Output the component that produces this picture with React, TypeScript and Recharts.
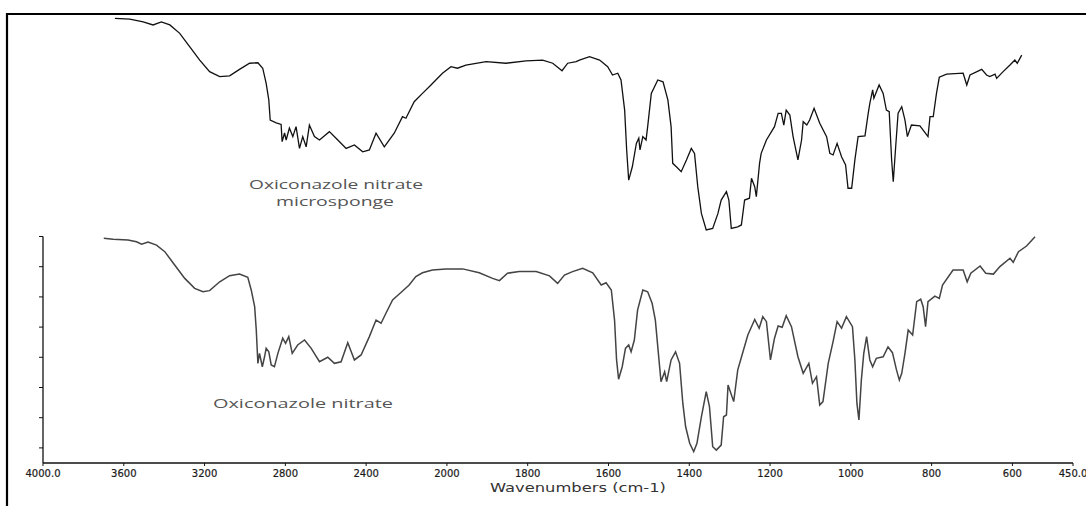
import { LineChart, Line, XAxis, YAxis, ReferenceLine } from 'recharts';

// FTIR spectra, wavenumbers in cm-1, transmittance in arbitrary % of panel height
const topWavenumbers = [
  3644, 3570, 3504, 3455, 3414, 3372, 3323, 3274, 3224, 3175,
  3125, 3076, 3027, 2977, 2936, 2912, 2895, 2882, 2875, 2845,
  2821, 2816, 2804, 2796, 2780, 2763, 2747, 2730, 2714, 2697,
  2681, 2656, 2631, 2582, 2549, 2499, 2458, 2417, 2384, 2351,
  2310, 2261, 2220, 2203, 2162, 2121, 2079, 2022, 1990, 1974,
  1953, 1903, 1854, 1804, 1763, 1738, 1715, 1701, 1680, 1672,
  1647, 1622, 1602, 1590, 1577, 1569, 1560, 1555, 1550, 1541,
  1531, 1525, 1522, 1515, 1507, 1503, 1494, 1478, 1465, 1453,
  1445, 1441, 1432, 1420, 1407, 1395, 1387, 1379, 1370, 1358,
  1342, 1329, 1321, 1308, 1302, 1296, 1280, 1271, 1263, 1251,
  1246, 1238, 1234, 1226, 1222, 1209, 1189, 1180, 1172, 1166,
  1160, 1151, 1143, 1131, 1122, 1118, 1109, 1102, 1091, 1077,
  1060, 1052, 1044, 1034, 1023, 1013, 1007, 998, 990, 982,
  965, 957, 953, 946, 943, 930, 920, 912, 905, 899,
  895, 889, 883, 874, 866, 860, 850, 829, 809, 804,
  796, 788, 781, 763, 722, 713, 705, 676, 664, 656,
  643, 639, 623, 606, 594, 588, 577,
];
const topValues = [
  96.3, 96.0, 94.8, 93.4, 94.7, 93.4, 89.7, 83.8, 77.9, 72.8,
  70.6, 70.9, 73.8, 76.5, 76.7, 74.3, 67.6, 60.3, 51.4, 50.2,
  49.5, 41.9, 45.7, 42.6, 47.9, 44.1, 48.5, 38.9, 44.1, 39.6,
  49.2, 44.1, 42.6, 46.3, 43.4, 38.9, 40.4, 37.4, 38.2, 45.6,
  39.6, 45.6, 52.9, 52.2, 59.5, 63.2, 66.9, 72.1, 75.0, 74.3,
  75.7, 77.2, 76.5, 77.5, 77.9, 76.5, 73.2, 76.5, 77.2, 77.9,
  79.4, 77.9, 75.0, 71.3, 72.1, 69.1, 55.8, 38.2, 24.9, 30.8,
  41.1, 43.4, 38.2, 44.1, 42.6, 48.5, 63.2, 69.1, 68.3, 60.3,
  48.5, 32.3, 30.8, 28.6, 33.8, 38.9, 36.7, 22.0, 10.2, 2.9,
  3.6, 10.2, 16.1, 19.8, 16.1, 3.6, 4.3, 5.1, 16.1, 16.9,
  25.7, 22.0, 17.6, 32.3, 36.7, 42.6, 48.5, 54.4, 54.4, 49.2,
  55.8, 53.6, 44.1, 33.8, 42.6, 50.7, 49.2, 51.4, 56.6, 50.0,
  44.1, 36.7, 36.0, 41.1, 35.2, 31.6, 21.3, 21.3, 33.8, 44.1,
  44.4, 54.4, 58.8, 64.7, 61.0, 66.9, 63.2, 55.8, 55.1, 33.8,
  24.2, 39.6, 54.4, 57.3, 51.4, 44.1, 49.2, 48.8, 44.1, 52.9,
  52.9, 63.2, 70.3, 71.7, 72.1, 66.9, 71.3, 73.8, 71.3, 70.6,
  71.7, 69.8, 72.8, 75.7, 77.9, 76.5, 80.1,
];

const bottomWavenumbers = [
  3699, 3653, 3579, 3537, 3512, 3480, 3438, 3397, 3348, 3298,
  3249, 3208, 3175, 3125, 3076, 3027, 2986, 2969, 2952, 2944,
  2936, 2928, 2914, 2903, 2895, 2882, 2870, 2854, 2837, 2813,
  2799, 2783, 2766, 2739, 2705, 2672, 2631, 2590, 2557, 2524,
  2491, 2458, 2425, 2384, 2351, 2326, 2302, 2269, 2236, 2187,
  2154, 2121, 2072, 2005, 1961, 1920, 1887, 1870, 1850, 1821,
  1779, 1746, 1726, 1709, 1689, 1664, 1639, 1618, 1606, 1593,
  1585, 1580, 1575, 1566, 1558, 1550, 1544, 1536, 1528, 1515,
  1503, 1492, 1484, 1475, 1470, 1461, 1456, 1445, 1434, 1424,
  1416, 1409, 1399, 1389, 1381, 1370, 1358, 1350, 1342, 1333,
  1321, 1315, 1308, 1304, 1290, 1280, 1267, 1255, 1238, 1227,
  1218, 1209, 1199, 1189, 1180, 1170, 1160, 1147, 1131, 1118,
  1104, 1095, 1085, 1077, 1069, 1056, 1044, 1034, 1023, 1011,
  996, 990, 985, 980, 974, 968, 961, 953, 946, 937,
  920, 908, 897, 887, 880, 874, 866, 858, 847, 837,
  827, 821, 815, 809, 792, 781, 773, 747, 722, 712,
  703, 680, 666, 647, 631, 606, 598, 585, 565, 544,
];
const bottomValues = [
  99.2, 98.8, 98.5, 97.7, 96.6, 97.6, 96.2, 93.3, 87.4, 81.5,
  77.1, 75.6, 76.1, 80.0, 82.7, 83.4, 82.0, 76.4, 69.0, 58.7,
  44.0, 48.4, 42.5, 46.9, 50.6, 49.1, 43.3, 42.5, 48.4, 55.1,
  52.8, 55.8, 48.4, 52.1, 54.3, 50.6, 44.7, 46.7, 44.0, 44.7,
  53.1, 45.5, 47.7, 55.8, 63.1, 61.7, 66.1, 72.0, 74.6, 78.6,
  82.3, 84.0, 85.2, 85.7, 85.7, 84.0, 81.5, 80.5, 83.8, 84.5,
  84.5, 82.6, 79.3, 83.0, 84.5, 86.0, 84.0, 78.6, 79.6, 76.4,
  63.1, 45.5, 37.0, 42.5, 50.6, 52.1, 49.1, 54.3, 67.5, 76.4,
  75.6, 70.5, 63.1, 45.5, 35.9, 40.3, 35.9, 45.5, 49.1, 44.0,
  26.4, 16.0, 8.7, 5.0, 8.7, 20.4, 31.5, 24.9, 7.2, 5.7,
  7.9, 20.4, 21.2, 34.4, 27.1, 41.1, 49.1, 56.5, 63.4, 59.5,
  64.6, 62.4, 45.5, 55.1, 60.5, 59.9, 65.0, 60.2, 46.9, 39.6,
  44.0, 35.2, 38.1, 25.6, 27.1, 44.0, 53.6, 62.4, 59.5, 64.6,
  60.2, 45.5, 26.4, 19.0, 36.6, 48.4, 55.8, 45.5, 42.5, 46.2,
  46.9, 51.3, 48.7, 41.1, 36.6, 39.6, 48.4, 58.7, 56.5, 71.2,
  72.3, 69.0, 60.2, 71.2, 73.7, 72.7, 78.6, 85.2, 85.2, 80.0,
  83.8, 87.0, 83.8, 83.4, 86.7, 90.4, 88.6, 93.3, 95.8, 99.9,
];

const xTickWavenumbers = [4000, 3600, 3200, 2800, 2400, 2000, 1800, 1600, 1400, 1200, 1000, 800, 600, 450];
const yTicks = [6.67, 20, 33.33, 46.67, 60, 73.33, 86.67, 100];

// the instrument halves the scale above 2000 cm-1
const toPos = (w: number) => (w >= 2000 ? (4000 - w) / 2 : 1000 + (2000 - w));
const fromPos = (p: number) => (p <= 1000 ? 4000 - p * 2 : 2000 - (p - 1000));

const topData = topWavenumbers.map((w, i) => ({ pos: toPos(w), t: topValues[i] }));
const bottomData = bottomWavenumbers.map((w, i) => ({ pos: toPos(w), b: bottomValues[i] }));

const formatTick = (p: number) => {
  const w = Math.round(fromPos(p));
  return w === 4000 || w === 450 ? `${w}.0` : `${w}`;
};

export default function App() {
  return (
    <div style={{ position: 'absolute', left: 0, top: 0, width: 1086, height: 506, background: '#fff' }}>
      <LineChart
        width={1086}
        height={506}
        margin={{ top: 10, right: 13, bottom: 13, left: 33 }}
      >
        <XAxis
          dataKey="pos"
          type="number"
          domain={[0, 2550]}
          ticks={xTickWavenumbers.map(toPos)}
          tickFormatter={formatTick}
          interval={0}
          height={30}
          tickSize={3}
          axisLine={{ stroke: '#111', strokeWidth: 1.3 }}
          tickLine={{ stroke: '#111' }}
          tick={{ fontSize: 10, fill: '#1a1a1a', fontFamily: 'DejaVu Sans', dy: 2, stroke: '#1a1a1a', strokeWidth: 0.2 }}
        />
        <YAxis yAxisId="top" domain={[-100, 100]} hide />
        <YAxis
          yAxisId="bottom"
          domain={[0, 200]}
          ticks={yTicks}
          width={10}
          axisLine={false}
          tickSize={4}
          tickLine={{ stroke: '#111' }}
          tickFormatter={() => ''}
        />
        <ReferenceLine
          yAxisId="bottom"
          segment={[{ x: 0, y: 0 }, { x: 0, y: 100 }]}
          stroke="#111"
          strokeWidth={1.3}
        />
        <Line
          yAxisId="top"
          data={topData}
          dataKey="t"
          type="linear"
          stroke="#111"
          strokeWidth={1.3}
          dot={false}
          isAnimationActive={false}
        />
        <Line
          yAxisId="bottom"
          data={bottomData}
          dataKey="b"
          type="linear"
          stroke="#444"
          strokeWidth={1.5}
          dot={false}
          isAnimationActive={false}
        />
      </LineChart>
      <svg
        width={1086}
        height={506}
        style={{ position: 'absolute', left: 0, top: 0, pointerEvents: 'none' }}
      >
        <line x1={7} y1={14} x2={1086} y2={14} stroke="#000" strokeWidth={2.2} />
        <line x1={7} y1={13} x2={7} y2={506} stroke="#000" strokeWidth={2.2} />
        <g fontFamily="Open Sans" fontSize={13} fill="#555">
          <text x={249} y={189} textLength={174} lengthAdjust="spacingAndGlyphs">
            Oxiconazole nitrate
          </text>
          <text x={276} y={206} textLength={118} lengthAdjust="spacingAndGlyphs">
            microsponge
          </text>
          <text x={213} y={408} textLength={180} lengthAdjust="spacingAndGlyphs">
            Oxiconazole nitrate
          </text>
        </g>
        <text
          x={490}
          y={492}
          fontFamily="DejaVu Sans"
          fontSize={12.5}
          fill="#333"
          textLength={176}
          lengthAdjust="spacingAndGlyphs"
        >
          Wavenumbers (cm-1)
        </text>
      </svg>
    </div>
  );
}
